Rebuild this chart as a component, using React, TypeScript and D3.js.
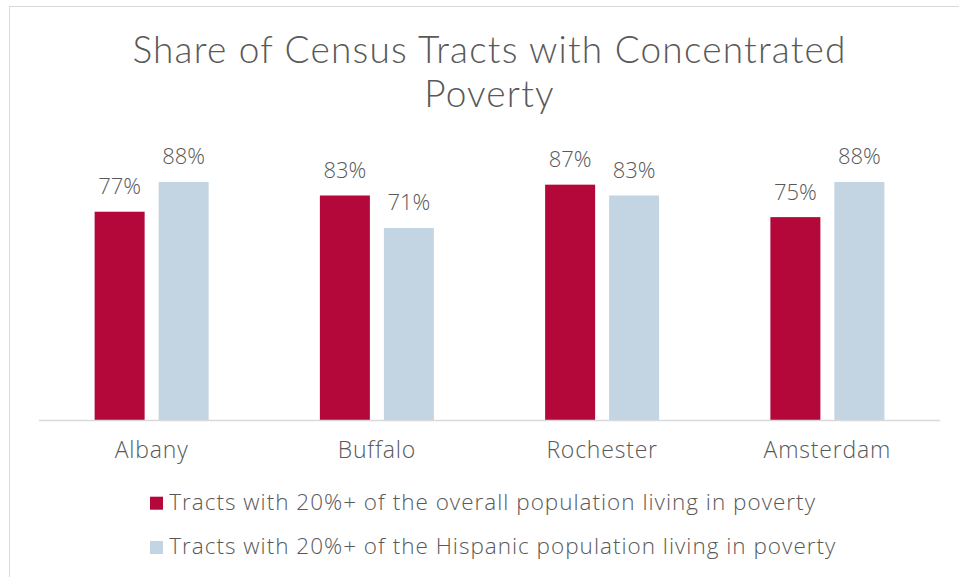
import React from "react";
import * as d3 from "d3";

const categories = ["Albany", "Buffalo", "Rochester", "Amsterdam"];
const overallValues = [77, 83, 87, 75];
const hispanicValues = [88, 71, 83, 88];
const seriesNames = [
  "Tracts with 20%+ of the overall population living in poverty",
  "Tracts with 20%+ of the Hispanic population living in poverty",
];
const titleLines = ["Share of Census Tracts with Concentrated", "Poverty"];

const W = 959;
const H = 577;
const FONT = "'Open Sans', Lato, sans-serif";
const TITLE_FONT = "Lato, 'Open Sans', sans-serif";
const TEXT = "#595959";
const COLORS = ["#B5083A", "#C3D5E2"];

export default function App() {
  const plotLeft = 39;
  const plotRight = 940;
  const baseY = 420;
  const x0 = d3.scaleBand<string>().domain(categories).range([plotLeft, plotRight]).paddingInner(0).paddingOuter(0);
  const groupW = 114;
  const x1 = d3
    .scaleBand<number>()
    .domain([0, 1])
    .range([0, groupW])
    .paddingInner(0.21875)
    .paddingOuter(0);
  const y = d3.scaleLinear().domain([0, 100]).range([baseY, baseY - 270.5]);
  const series = [overallValues, hispanicValues];
  const cx = (plotLeft + plotRight) / 2;

  return (
    <svg width={W} height={H} style={{ position: "absolute", left: 0, top: 0, background: "#fff" }}>
      <rect x={9.5} y={6.5} width={W + 20} height={H + 20} fill="#fff" stroke="#D9D9D9" strokeWidth={1} />
      <g fontFamily={FONT} fill={TEXT} fontWeight={300}>
        {titleLines.map((t, i) => (
          <text
            key={i}
            x={cx}
            y={62.5 + i * 44.8}
            textAnchor="middle"
            fontSize={37}
            fontFamily={TITLE_FONT}
            letterSpacing={1.2}
          >
            {t}
          </text>
        ))}
        {categories.map((c, ci) => {
          const gx = (x0(c) as number) + (x0.bandwidth() - groupW) / 2;
          return (
            <g key={c}>
              {series.map((vals, si) => {
                const bx = gx + (x1(si) as number);
                const bw = x1.bandwidth();
                return (
                  <g key={si}>
                    <rect x={bx} y={y(vals[ci])} width={bw} height={baseY - y(vals[ci])} fill={COLORS[si]} />
                    <text x={bx + bw / 2} y={y(vals[ci]) - 17.5} textAnchor="middle" fontSize={22}>
                      {vals[ci]}%
                    </text>
                  </g>
                );
              })}
              <text
                x={(x0(c) as number) + x0.bandwidth() / 2}
                y={458.3}
                textAnchor="middle"
                fontSize={23}
                letterSpacing={0.8}
              >
                {c}
              </text>
            </g>
          );
        })}
        <line x1={plotLeft} x2={plotRight} y1={baseY + 0.5} y2={baseY + 0.5} stroke="#D9D9D9" strokeWidth={1.5} />
        {seriesNames.map((s, i) => (
          <g key={s} transform={`translate(150, ${510 + i * 44.3})`}>
            <rect x={0} y={-13.3} width={13} height={13} fill={COLORS[i]} />
            <text x={19.3} y={0} fontSize={22.5} letterSpacing={1}>
              {s}
            </text>
          </g>
        ))}
      </g>
    </svg>
  );
}
